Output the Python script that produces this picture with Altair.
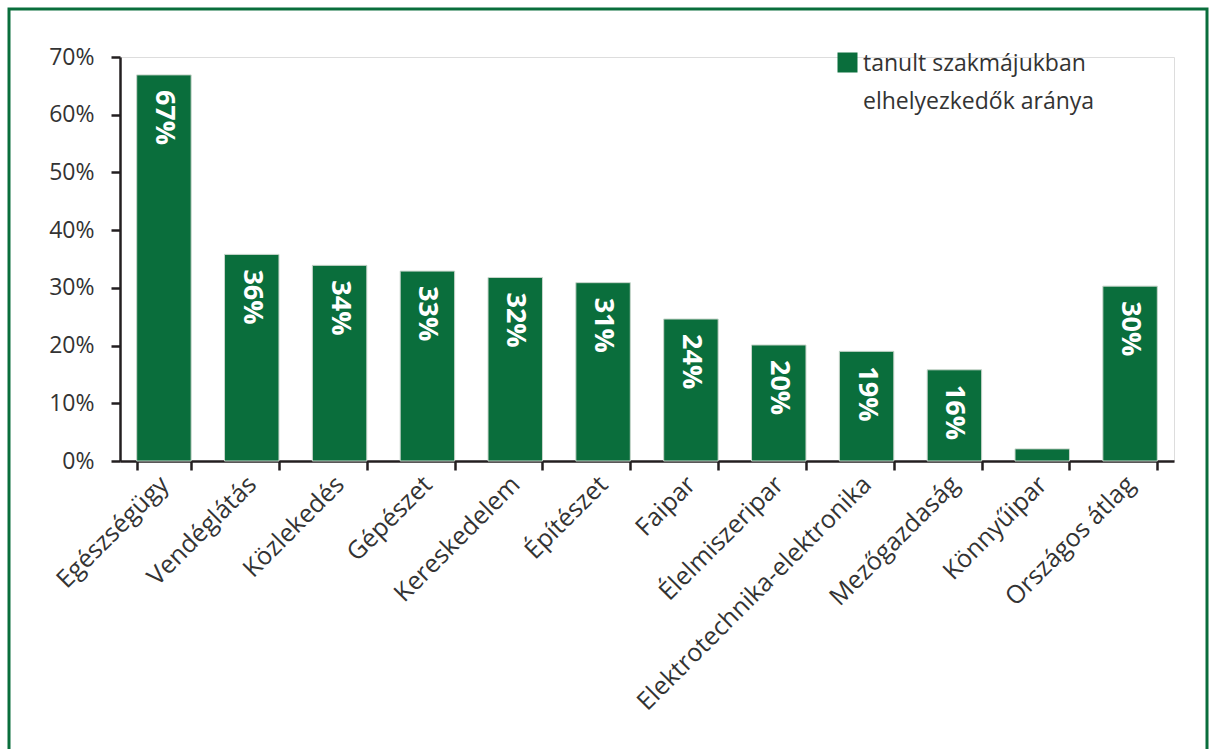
import altair as alt
import pandas as pd

categories = ["Egészségügy", "Vendéglátás", "Közlekedés", "Gépészet", "Kereskedelem",
              "Építészet", "Faipar", "Élelmiszeripar", "Elektrotechnika-elektronika",
              "Mezőgazdaság", "Könnyűipar", "Országos átlag"]
values = [66.9, 35.8, 33.9, 32.9, 31.8, 30.9, 24.6, 20.1, 19.0, 15.8, 2.1, 30.3]
bar_labels = ["67%", "36%", "34%", "33%", "32%", "31%", "24%", "20%", "19%", "16%", "", "30%"]
series_name = "tanult szakmájukban elhelyezkedők aránya"
legend_lines = ["tanult szakmájukban", "elhelyezkedők aránya"]
y_ticks = [0, 10, 20, 30, 40, 50, 60, 70]

GREEN = "#0a6e3c"
INK = "#231f20"
FONT = "Open Sans"

df = pd.DataFrame({"kat": categories, "ertek": values, "cimke": bar_labels,
                   "sorozat": [series_name] * len(categories)})

W, H = 1054, 404

legend_expr = "[" + ", ".join("'" + s + "'" for s in legend_lines) + "]"

x = alt.X("kat:N", sort=None,
          scale=alt.Scale(paddingInner=0.38, paddingOuter=0.19),
          axis=alt.Axis(title=None, labelAngle=-45, labelAlign="right", labelBaseline="middle",
                        labelFont=FONT, labelFontSize=25, labelColor="#333333",
                        labelPadding=10, tickBand="extent", tickSize=9, tickWidth=2.5,
                        tickColor=INK, domainColor=INK, domainWidth=2.5, labelLimit=500))
y = alt.Y("ertek:Q", scale=alt.Scale(domain=[0, 70], nice=False),
          axis=alt.Axis(title=None, values=y_ticks, labelExpr="datum.value + '%'",
                        labelFont=FONT, labelFontSize=23, labelColor="#333333",
                        tickSize=9, tickWidth=2.5, tickColor=INK, labelPadding=17,
                        domainColor=INK, domainWidth=2.5, grid=False))

bars = alt.Chart(df).mark_bar(stroke="#c9d6cc", strokeWidth=1).encode(
    x=x, y=y,
    color=alt.Color("sorozat:N", scale=alt.Scale(range=[GREEN]),
                    legend=alt.Legend(title=None, orient="none", legendX=716, legendY=2,
                                      symbolType="M-1,-1.8H1V0.2H-1Z", symbolSize=400,
                                      symbolStrokeWidth=0, labelFont=FONT,
                                      labelFontSize=23, labelColor="#333333",
                                      labelLimit=500, labelBaseline="alphabetic",
                                      labelOffset=4, labelExpr=legend_expr))
)

texts = alt.Chart(df).transform_filter("datum.cimke != ''").mark_text(
    angle=90, align="left", baseline="middle", dx=15, color="white",
    fontWeight="bold", fontSize=27, font=FONT
).encode(x=alt.X("kat:N", sort=None), y="ertek:Q", text="cimke:N")

frame = alt.Chart(pd.DataFrame({"k": [0]})).mark_rect(
    fill=None, stroke=GREEN, strokeWidth=3
).encode(x=alt.value(-111), x2=alt.value(1087), y=alt.value(-48), y2=alt.value(720))

chart = alt.layer(frame, bars, texts).properties(
    width=W, height=H,
    autosize=alt.AutoSizeParams(type="none"),
    padding={"left": 120, "top": 57, "right": 37, "bottom": 288},
).configure_view(stroke=None).configure(
    background="white", style={"guide-label": {"lineHeight": 38}}
)

chart.save("out.html", embed_options={"renderer": "svg", "actions": False})
